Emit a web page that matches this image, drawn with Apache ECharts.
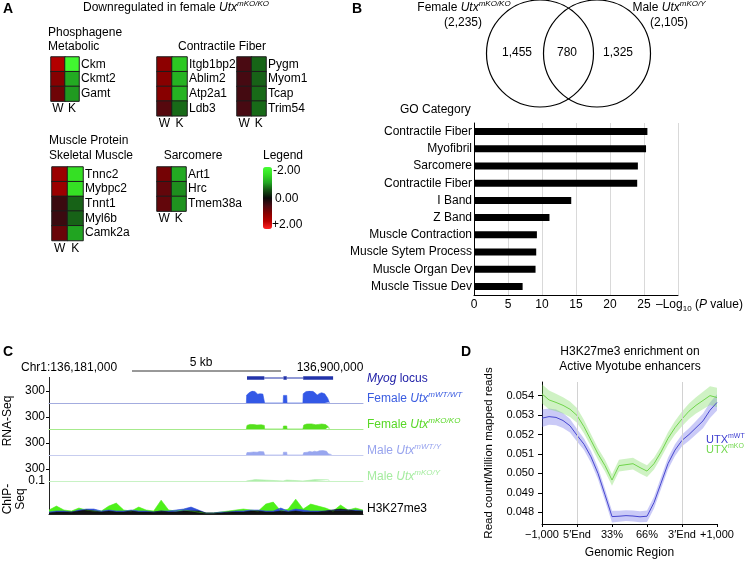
<!DOCTYPE html>
<html><head><meta charset="utf-8">
<script src="https://cdn.jsdelivr.net/npm/echarts@6/dist/echarts.min.js"></script>
<style>html,body{margin:0;padding:0;background:#fff}#c{width:748px;height:561px}</style>
</head><body><div id="c"></div>
<script>
// ---------- DATA ----------
// Panel A heatmaps (row-scaled expression, W = wild type, K = knockout)
const hmCols = ['W','K'];
const phosGenes = ['Ckm','Ckmt2','Gamt'];
const phosW = [1.45, 0.98, 0.8];
const phosK = [-1.9, -1.02, -0.92];
const fiberAGenes = ['Itgb1bp2','Ablim2','Atp2a1','Ldb3'];
const fiberAW = [1.05, 1.0, 1.0, 0.6];
const fiberAK = [-1.3, -1.1, -1.1, -0.65];
const fiberBGenes = ['Pygm','Myom1','Tcap','Trim54'];
const fiberBW = [0.5, 0.47, 0.45, 0.48];
const fiberBK = [-0.62, -0.6, -0.65, -0.65];
const muscleGenes = ['Tnnc2','Mybpc2','Tnnt1','Myl6b','Camk2a'];
const muscleW = [1.2, 1.2, 0.38, 0.38, 0.75];
const muscleK = [-1.55, -1.55, -0.6, -0.6, -0.98];
const sarcGenes = ['Art1','Hrc','Tmem38a'];
const sarcW = [0.85, 0.7, 0.7];
const sarcK = [-1.02, -0.85, -0.88];

// Panel B Venn counts and GO bars
const vennFemaleOnly = '1,455', vennShared = '780', vennMaleOnly = '1,325';
const vennFemaleTotal = '(2,235)', vennMaleTotal = '(2,105)';
const goCats = ['Contractile Fiber','Myofibril','Sarcomere','Contractile Fiber','I Band','Z Band','Muscle Contraction','Muscle Sytem Process','Muscle Organ Dev','Muscle Tissue Dev'];
const goVals = [25.5, 25.3, 24.1, 24.0, 14.3, 11.1, 9.25, 9.15, 9.05, 7.15];

// Panel C genome tracks (position in kb across the window)
const geneParts = [[6.62,7.2,1],[7.2,7.84,0],[7.84,7.95,1],[7.95,8.5,0],[8.5,9.5,1]];
const femWT = [[6.60,0],[6.61,200],[6.70,260],[6.80,300],[6.88,290],[6.98,220],[7.05,230],[7.15,225],[7.20,210],[7.21,0],
  [7.83,0],[7.84,190],[7.95,190],[7.96,0],
  [8.49,0],[8.50,230],[8.60,290],[8.70,300],[8.82,295],[8.90,250],[8.97,200],[9.05,240],[9.12,255],[9.22,230],[9.32,120],[9.37,20],[9.38,0]];
const femKO = [[6.60,0],[6.62,90],[6.72,115],[6.85,110],[6.95,100],[7.10,105],[7.20,90],[7.21,0],[7.83,0],[7.84,75],[7.95,75],[7.96,0],
  [8.49,0],[8.52,100],[8.62,125],[8.78,128],[8.92,105],[9.02,115],[9.12,125],[9.25,110],[9.35,50],[9.37,0]];
const maleWT = [[6.60,0],[6.62,60],[6.68,80],[6.72,65],[6.78,100],[6.84,75],[6.90,90],[6.96,70],[7.04,85],[7.10,70],[7.18,80],[7.21,0],
  [7.83,0],[7.84,70],[7.95,70],[7.96,0],
  [8.49,0],[8.52,60],[8.58,80],[8.64,70],[8.72,90],[8.80,75],[8.88,95],[8.96,80],[9.04,105],[9.10,85],[9.16,110],[9.22,90],[9.28,95],[9.34,30],[9.45,10],[9.46,0]];
const maleKO = [[6.60,0],[6.62,25],[6.9,35],[7.2,25],[7.21,0],[7.83,0],[7.84,25],[7.95,25],[7.96,0],[8.49,0],[8.52,25],[8.9,35],[9.35,30],[9.37,0]];
const chipPos = [0,0.25,0.5,0.75,1,1.25,1.5,1.75,2,2.25,2.5,2.75,3,3.25,3.5,3.75,4,4.25,4.5,4.75,5,5.25,5.5,5.75,6,6.25,6.5,6.75,7,7.25,7.5,7.75,8,8.25,8.5,8.75,9,9.25,9.5,9.75,10,10.25,10.5];
const chipKO = [0.012,0.024,0.012,0.009,0.018,0.012,0.009,0.009,0.024,0.033,0.012,0.009,0.021,0.012,0.009,0.042,0.012,0.009,0.012,0.009,0.006,0.003,0.003,0.006,0.009,0.012,0.015,0.012,0.009,0.03,0.036,0.009,0.015,0.045,0.015,0.03,0.024,0.018,0.009,0.027,0.012,0.018,0.012];
const chipWTblue = [0.006,0.009,0.009,0.006,0.012,0.015,0.015,0.009,0.012,0.009,0.009,0.012,0.009,0.009,0.006,0.009,0.009,0.012,0.015,0.021,0.012,0.003,0.003,0.006,0.006,0.009,0.009,0.012,0.012,0.009,0.009,0.018,0.009,0.015,0.012,0.009,0.009,0.009,0.012,0.012,0.012,0.012,0.009];
const chipBlack = [0.003,0.006,0.006,0.006,0.009,0.012,0.009,0.006,0.009,0.006,0.006,0.009,0.006,0.006,0.006,0.009,0.006,0.006,0.009,0.009,0.009,0.003,0.003,0.003,0.006,0.006,0.006,0.009,0.009,0.006,0.006,0.009,0.006,0.009,0.006,0.006,0.006,0.009,0.012,0.015,0.012,0.009,0.009];

// Panel D meta-profile
const dX = [0,4,8,12,16,20,24,28,32,36,40,44,48,52,56,60,64,68,72,76,80,84,88,92,96,100];
const dTickLabels = ['\u22121,000','5\u2032End','33%','66%','3\u2032End','+1,000'];
const wtMean = [0.05284,0.05292,0.05288,0.05272,0.05245,0.05196,0.0515,0.05085,0.05,0.0489,0.04778,0.0478,0.04783,0.04781,0.04777,0.0478,0.0485,0.0495,0.0505,0.0512,0.0517,0.052,0.05235,0.0527,0.05325,0.05365];
const koMean = [0.05409,0.05378,0.05365,0.0535,0.0533,0.05298,0.0524,0.0517,0.051,0.0504,0.04966,0.0504,0.05045,0.0505,0.0503,0.05012,0.0505,0.0511,0.0518,0.05235,0.0528,0.0532,0.0535,0.05375,0.054,0.0539];
const wtHalf = [0.00045,0.00042,0.0004,0.00038,0.00035,0.00032,0.0003,0.0003,0.0003,0.0003,0.0003,0.00028,0.00028,0.00028,0.00028,0.0003,0.0003,0.0003,0.0003,0.0003,0.0003,0.00032,0.00035,0.00038,0.0004,0.00042];
const koHalf = [0.0005,0.00048,0.00045,0.00042,0.0004,0.00038,0.00035,0.00032,0.0003,0.0003,0.0003,0.0003,0.0003,0.0003,0.0003,0.0003,0.0003,0.0003,0.00032,0.00035,0.00038,0.0004,0.00042,0.00045,0.00048,0.0005];
const dYTicks = [0.048,0.049,0.050,0.051,0.052,0.053,0.054];

// ---------- CHART ----------
const FONT = '"Liberation Sans", Arial, Helvetica, sans-serif';
const chart = echarts.init(document.getElementById('c'), null, {renderer:'canvas'});
const grids = [], xAxes = [], yAxes = [], series = [], graphic = [];

// heatmaps
const heatGroups = [
  {genes: phosGenes, w: phosW, k: phosK, left:51, top:57, width:28},
  {genes: fiberAGenes, w: fiberAW, k: fiberAK, left:157, top:57, width:30},
  {genes: fiberBGenes, w: fiberBW, k: fiberBK, left:237, top:57, width:29},
  {genes: muscleGenes, w: muscleW, k: muscleK, left:52, top:167, width:31},
  {genes: sarcGenes, w: sarcW, k: sarcK, left:157, top:167, width:29}
];
heatGroups.forEach((g, i) => {
  grids.push({left:g.left, top:g.top, width:g.width, height:g.genes.length*14.7, containLabel:false});
  xAxes.push({gridIndex:i, type:'category', data:hmCols, axisLine:{show:false}, axisTick:{show:false}, splitLine:{show:false},
    axisLabel:{interval:0, fontSize:12, fontFamily:FONT, color:'#000', margin:2}});
  yAxes.push({gridIndex:i, type:'category', data:g.genes, inverse:true, position:'right', axisLine:{show:false}, axisTick:{show:false}, splitLine:{show:false},
    axisLabel:{interval:0, fontSize:12, fontFamily:FONT, color:'#000', margin:2}});
  const data = [];
  g.genes.forEach((gn, r) => { data.push([0, r, g.w[r]]); data.push([1, r, g.k[r]]); });
  series.push({type:'heatmap', xAxisIndex:i, yAxisIndex:i, data, itemStyle:{borderColor:'#1c1c1c', borderWidth:1}, emphasis:{disabled:true}, silent:true});
});

// GO bar chart (grid 5)
grids.push({left:474, top:123, width:204, height:172});
xAxes.push({gridIndex:5, type:'value', min:0, max:30, interval:5, axisLine:{show:true, lineStyle:{color:'#000'}}, axisTick:{show:false},
  splitLine:{show:true, lineStyle:{color:'#d9d9d9'}}, axisLabel:{fontSize:12, fontFamily:FONT, color:'#000', margin:4, formatter:v => v === 30 ? '' : String(v)}});
yAxes.push({gridIndex:5, type:'category', data:goCats, inverse:true, axisLine:{show:true, lineStyle:{color:'#000'}}, axisTick:{show:false},
  axisLabel:{interval:0, fontSize:12, fontFamily:FONT, color:'#000', margin:2}});
series.push({type:'bar', xAxisIndex:5, yAxisIndex:5, data:goVals, barWidth:7, itemStyle:{color:'#000'}, silent:true});

// Genome tracks (grids 6..11)
const trackLeft = 49, trackWidth = 314;
function trackGrid(top, height) { grids.push({left:trackLeft, top, width:trackWidth, height}); }
trackGrid(374, 8);
xAxes.push({gridIndex:6, type:'value', min:0, max:10.5, show:false});
yAxes.push({gridIndex:6, type:'value', min:0, max:1, show:false});
series.push({type:'custom', xAxisIndex:6, yAxisIndex:6, data:geneParts, silent:true,
  renderItem:(params, api) => {
    const s = api.coord([api.value(0), 0.5]);
    const e = api.coord([api.value(1), 0.5]);
    const h = api.value(2) ? 3.5 : 1;
    return {type:'rect', shape:{x:s[0], y:s[1]-h/2, width:e[0]-s[0], height:h}, style:{fill:'#2233aa'}};
  }});
const rnaTracks = [
  {data:femWT, top:391, fill:'#3358e6', base:'#a3acdf'},
  {data:femKO, top:417, fill:'#55e01c', base:'#a6ea8c'},
  {data:maleWT, top:443, fill:'#98a6ef', base:'#c7cdef'},
  {data:maleKO, top:469, fill:'#aeeeaa', base:'#c8f2c4'}
];
rnaTracks.forEach((t, k) => {
  const gi = 7 + k;
  trackGrid(t.top, 12);
  xAxes.push({gridIndex:gi, type:'value', min:0, max:10.5, axisLine:{show:true, onZero:false, lineStyle:{color:t.base, width:1}}, axisTick:{show:false}, axisLabel:{show:false}, splitLine:{show:false}});
  yAxes.push({gridIndex:gi, type:'value', min:0, max:300, axisLine:{show:false}, splitLine:{show:false},
    axisTick:{show:true, length:3, customValues:[300], lineStyle:{color:'#000'}},
    axisLabel:{fontSize:12, fontFamily:FONT, color:'#000', margin:4, customValues:[300]}});
  series.push({type:'line', xAxisIndex:gi, yAxisIndex:gi, data:t.data, symbol:'none', silent:true,
    lineStyle:{width:0.6, color:t.fill}, areaStyle:{color:t.fill, opacity:1}});
});
trackGrid(481, 33);
xAxes.push({gridIndex:11, type:'value', min:0, max:10.5, axisLine:{show:true, onZero:false, lineStyle:{color:'#222'}}, axisTick:{show:false}, axisLabel:{show:false}, splitLine:{show:false}});
yAxes.push({gridIndex:11, type:'value', min:0, max:0.1, axisLine:{show:false}, splitLine:{show:false},
  axisTick:{show:false}, axisLabel:{fontSize:12, fontFamily:FONT, color:'#000', margin:4, customValues:[0.1], formatter:v => String(v)}});
[[chipKO,'#4ef01a'],[chipWTblue,'#2f4fd8'],[chipBlack,'#111111']].forEach(([vals, col]) => {
  series.push({type:'line', xAxisIndex:11, yAxisIndex:11, data:chipPos.map((p,i)=>[p, vals[i]]), symbol:'none', silent:true,
    lineStyle:{width:0.6, color:col}, areaStyle:{color:col, opacity:1}});
});

// Panel D grid 12
grids.push({left:542, top:382, width:175, height:142});
xAxes.push({gridIndex:12, type:'value', min:0, max:100, interval:20, axisLine:{show:true, onZero:false, lineStyle:{color:'#000'}},
  axisTick:{show:true, length:3, lineStyle:{color:'#000'}}, splitLine:{show:false},
  axisLabel:{fontSize:11, fontFamily:FONT, color:'#000', margin:5, formatter:v => dTickLabels[Math.round(v/20)]},
  name:'Genomic Region', nameLocation:'middle', nameGap:23, nameTextStyle:{fontSize:12, fontFamily:FONT, color:'#000'}});
yAxes.push({gridIndex:12, type:'value', min:0.0474, max:0.0547, axisLine:{show:true, onZero:false, lineStyle:{color:'#000'}},
  axisTick:{show:true, length:4, customValues:dYTicks, lineStyle:{color:'#000'}}, splitLine:{show:false},
  axisLabel:{fontSize:11, fontFamily:FONT, color:'#000', margin:8, customValues:dYTicks, formatter:v => v.toFixed(3)}});
function band(mean, half, col) {
  series.push({type:'custom', xAxisIndex:12, yAxisIndex:12, data:[[0]], silent:true, clip:true,
    renderItem:(params, api) => {
      const up = dX.map((x,i) => api.coord([x, mean[i] + half[i]]));
      const lo = dX.map((x,i) => api.coord([x, mean[i] - half[i]])).reverse();
      return {type:'polygon', shape:{points: up.concat(lo)}, style:{fill:col}};
    }});
}
band(wtMean, wtHalf, 'rgba(108,108,232,0.36)');
band(koMean, koHalf, 'rgba(130,220,100,0.38)');
series.push({type:'line', xAxisIndex:12, yAxisIndex:12, symbol:'none', silent:true, data:dX.map((x,i)=>[x, koMean[i]]), lineStyle:{color:'#6fd44a', width:1},
  markLine:{silent:true, symbol:'none', label:{show:false}, lineStyle:{color:'#d2d2d2', type:'solid', width:1}, data:[{xAxis:20},{xAxis:80}]}});
series.push({type:'line', xAxisIndex:12, yAxisIndex:12, symbol:'none', silent:true, data:dX.map((x,i)=>[x, wtMean[i]]), lineStyle:{color:'#4646cf', width:1}});

// ---------- TEXT / ANNOTATIONS ----------
function txt(x, y, text, o) {
  o = o || {};
  return {type:'text', x, y, rotation:o.rot || 0, silent:true, z:100,
    style:{text, fill:o.color || '#000', fontSize:o.size || 12, fontFamily:FONT, fontWeight:o.weight || 'normal', fontStyle:o.style || 'normal',
      align:o.align || 'left', verticalAlign:o.va || 'middle', lineHeight:o.lh}};
}
function rich(x, y, text, o) {
  o = o || {};
  const c = o.color || '#000', fs = o.size || 12, ss = o.sup || 8;
  return {type:'text', x, y, rotation:0, silent:true, z:100,
    style:{text, align:o.align || 'left', verticalAlign:'middle',
      rich:{
        n:{fontSize:fs, fontFamily:FONT, fill:c, lineHeight:fs+4},
        i:{fontSize:fs, fontFamily:FONT, fill:c, fontStyle:'italic', lineHeight:fs+4},
        s:{fontSize:ss, fontFamily:FONT, fill:c, fontStyle:o.supStyle || 'italic', lineHeight:ss, verticalAlign:'top'},
        b:{fontSize:ss, fontFamily:FONT, fill:c, lineHeight:ss, verticalAlign:'bottom'}
      }}};
}
graphic.push(txt(3, 9, 'A', {weight:'bold', size:14}));
graphic.push(txt(352, 9, 'B', {weight:'bold', size:14}));
graphic.push(txt(3, 352, 'C', {weight:'bold', size:14}));
graphic.push(txt(461, 352, 'D', {weight:'bold', size:14}));
// Panel A
graphic.push(rich(83, 8, '{n|Downregulated in female }{i|Utx}{s|mKO/KO}'));
graphic.push(txt(48, 33, 'Phosphagene'));
graphic.push(txt(48, 47, 'Metabolic'));
graphic.push(txt(222, 47, 'Contractile Fiber', {align:'center'}));
graphic.push(txt(49, 141, 'Muscle Protein'));
graphic.push(txt(49, 156, 'Skeletal Muscle'));
graphic.push(txt(193, 156, 'Sarcomere', {align:'center'}));
graphic.push(txt(263, 156, 'Legend'));
graphic.push(txt(273, 171, '-2.00'));
graphic.push(txt(275, 199, '0.00'));
graphic.push(txt(272, 225, '+2.00'));
// Panel B venn
graphic.push({type:'circle', shape:{cx:540, cy:53.5, r:53.5}, style:{fill:'none', stroke:'#000', lineWidth:1.2}, silent:true});
graphic.push({type:'circle', shape:{cx:597, cy:53.5, r:53.5}, style:{fill:'none', stroke:'#000', lineWidth:1.2}, silent:true});
graphic.push(txt(517, 53, vennFemaleOnly, {align:'center'}));
graphic.push(txt(567, 53, vennShared, {align:'center'}));
graphic.push(txt(618, 53, vennMaleOnly, {align:'center'}));
graphic.push(rich(464, 8, '{n|Female }{i|Utx}{s|mKO/KO}', {align:'center'}));
graphic.push(txt(463, 23, vennFemaleTotal, {align:'center'}));
graphic.push(rich(669, 8, '{n|Male }{i|Utx}{s|mKO/Y}', {align:'center'}));
graphic.push(txt(669, 23, vennMaleTotal, {align:'center'}));
graphic.push(txt(400, 110, 'GO Category'));
graphic.push(rich(656, 305, '{n|\u2013Log}{b|10}{n| (}{i|P}{n| value)}'));
// Panel C
graphic.push(txt(21, 368, 'Chr1:136,181,000'));
graphic.push(txt(201, 363, '5 kb', {align:'center'}));
graphic.push({type:'line', shape:{x1:132, y1:371, x2:281, y2:371}, style:{stroke:'#333', lineWidth:1}, silent:true});
graphic.push(txt(330, 368, '136,900,000', {align:'center'}));
graphic.push({type:'line', shape:{x1:49.5, y1:377, x2:49.5, y2:514}, style:{stroke:'#222', lineWidth:1}, silent:true});
graphic.push(txt(8, 421, 'RNA-Seq', {rot:Math.PI/2, align:'center'}));
graphic.push(txt(14, 499, 'ChIP-\nSeq', {rot:Math.PI/2, align:'center', lh:13}));
graphic.push(rich(367, 379, '{i|Myog}{n| locus}', {color:'#2222a8'}));
graphic.push(rich(367, 399, '{n|Female }{i|Utx}{s|mWT/WT}', {color:'#3a5ce0'}));
graphic.push(rich(367, 425, '{n|Female }{i|Utx}{s|mKO/KO}', {color:'#58d826'}));
graphic.push(rich(367, 451, '{n|Male }{i|Utx}{s|mWT/Y}', {color:'#98a4ee'}));
graphic.push(rich(367, 477, '{n|Male }{i|Utx}{s|mKO/Y}', {color:'#a6eca0'}));
graphic.push(txt(367, 509, 'H3K27me3'));
// Panel D
graphic.push(txt(630, 352, 'H3K27me3 enrichment on', {align:'center'}));
graphic.push(txt(630, 367, 'Active Myotube enhancers', {align:'center'}));
graphic.push(txt(489, 453, 'Read count/Million mapped reads', {rot:Math.PI/2, align:'center', size:11.5}));
graphic.push(rich(706, 440, '{n|UTX}{s|mWT}', {color:'#3c3cd0', size:11, sup:7, supStyle:'normal'}));
graphic.push(rich(706, 450, '{n|UTX}{s|mKO}', {color:'#72d84e', size:11, sup:7, supStyle:'normal'}));

chart.setOption({
  animation:false,
  textStyle:{fontFamily:FONT},
  grid:grids, xAxis:xAxes, yAxis:yAxes, series,
  visualMap:[{type:'continuous', min:-2, max:2, seriesIndex:[0,1,2,3,4], calculable:false, show:true, orient:'vertical',
    left:263, top:167, itemWidth:9, itemHeight:62, inverse:true, padding:0, hoverLink:false, text:null, showLabel:false,
    inRange:{color:['#44ff33','#33dd22','#22a822','#145014','#0a0a0a','#4a0a12','#880000','#b80000','#ff2222']}}],
  graphic:{elements:graphic}
});
</script></body></html>
